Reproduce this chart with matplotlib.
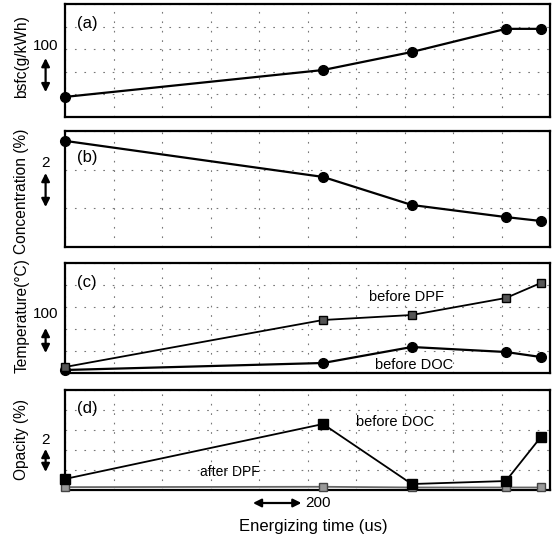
import matplotlib.pyplot as plt
import numpy as np

plt.rcParams['font.family'] = ['Liberation Sans', 'DejaVu Sans']

# energizing time (us) and measured quantities
time_us = [0, 1064, 1430, 1818, 1962]
bsfc = [259, 338, 391, 459, 459]
concentration = [6.24, 4.12, 2.47, 1.76, 1.53]
temp_before_dpf = [124, 312, 332, 400, 460]
temp_before_doc = [112, 140, 204, 184, 164]
opacity_before_doc = [0.96, 5.74, 0.52, 0.78, 4.6]
opacity_after_dpf = [0.25, 0.28, 0.22, 0.22, 0.22]

fig = plt.figure(figsize=(5.58, 5.43), dpi=100)

def make_axes(rect, ylim, ndiv):
    ax = fig.add_axes(rect)
    ax.set_xlim(0, 2000)
    ax.set_ylim(*ylim)
    ax.set_xticks(np.arange(0, 2001, 200))
    ax.set_yticks(np.linspace(ylim[0], ylim[1], ndiv + 1))
    ax.tick_params(length=0, labelleft=False, labelbottom=False)
    ax.grid(True, color='#777777', linestyle=(0, (1.5, 7)), linewidth=0.8)
    for s in ax.spines.values():
        s.set_linewidth(1.6)
    return ax

arrow_style = dict(arrowstyle='<|-|>', color='black', lw=1.6,
                   mutation_scale=12, shrinkA=0, shrinkB=0)

def scale_bar(ax, y0, y1, text, ty, x=-0.04):
    tr = ax.get_yaxis_transform()
    ax.annotate('', xy=(x, y1), xytext=(x, y0), xycoords=tr, textcoords=tr,
                arrowprops=arrow_style, annotation_clip=False)
    ax.text(x, ty, text, transform=tr, ha='center', va='center', fontsize=11)

W = 485 / 558
L = 65 / 558

# (a) bsfc
ax1 = make_axes([L, 1 - 117 / 543, W, 113 / 543], (200, 532), 5)
ax1.plot(time_us, bsfc, color='black', lw=1.6, marker='o', ms=7, clip_on=False, zorder=3)
ax1.text(0.025, 0.83, '(a)', transform=ax1.transAxes, fontsize=12, va='center')
scale_bar(ax1, 273, 373, '100', 410)

# (b) concentration
ax2 = make_axes([L, 1 - 247 / 543, W, 116 / 543], (0, 6.82), 3)
ax2.plot(time_us, concentration, color='black', lw=1.6, marker='o', ms=7, clip_on=False, zorder=3)
ax2.text(0.025, 0.77, '(b)', transform=ax2.transAxes, fontsize=12, va='center')
scale_bar(ax2, 2.35, 4.35, '2', 4.94)

# (c) temperature
ax3 = make_axes([L, 1 - 373 / 543, W, 110 / 543], (100, 540), 5)
ax3.plot(time_us, temp_before_doc, color='black', lw=1.6, marker='o', ms=7, clip_on=False, zorder=3)
ax3.plot(time_us, temp_before_dpf, color='black', lw=1.3, marker='s', ms=6,
         mfc='#555555', mec='black', clip_on=False, zorder=4)
ax3.text(0.025, 0.82, '(c)', transform=ax3.transAxes, fontsize=12, va='center')
ax3.text(1410, 404, 'before DPF', fontsize=10.5, ha='center', va='center')
ax3.text(1439, 132, 'before DOC', fontsize=10.5, ha='center', va='center')
scale_bar(ax3, 180, 280, '100', 336)

# (d) opacity
ax4 = make_axes([L, 1 - 490 / 543, W, 100 / 543], (0, 8.7), 5)
ax4.plot(time_us, opacity_after_dpf, color='#666666', lw=1.3, marker='s', ms=6,
         mfc='#999999', mec='#444444', clip_on=False, zorder=3)
ax4.plot(time_us, opacity_before_doc, color='black', lw=1.3, marker='s', ms=6.5,
         mfc='black', mec='black', clip_on=False, zorder=4)
ax4.text(0.025, 0.82, '(d)', transform=ax4.transAxes, fontsize=12, va='center')
ax4.text(1361, 5.9, 'before DOC', fontsize=10.5, ha='center', va='center')
ax4.text(557, 1.57, 'after DPF', fontsize=10, ha='left', va='center')
scale_bar(ax4, 1.57, 3.57, '2', 4.35)

# x scale bar and axis title
trx = ax4.get_xaxis_transform()
ax4.annotate('', xy=(975, -0.13), xytext=(775, -0.13), xycoords=trx, textcoords=trx,
             arrowprops=arrow_style, annotation_clip=False)
ax4.text(990, -0.13, '200', transform=trx, fontsize=11, ha='left', va='center')
fig.text(313 / 558, 1 - 527 / 543, 'Energizing time (us)', fontsize=12, ha='center', va='center')

# panel y labels
for yc, lab in [(57, 'bsfc(g/kWh)'), (191, 'Concentration (%)'),
                (316, 'Temperature(\u00b0C)'), (440, 'Opacity (%)')]:
    fig.text(22 / 558, 1 - yc / 543, lab, rotation=90, fontsize=11.2,
             ha='center', va='center')

fig.savefig('out.png', dpi=100)
